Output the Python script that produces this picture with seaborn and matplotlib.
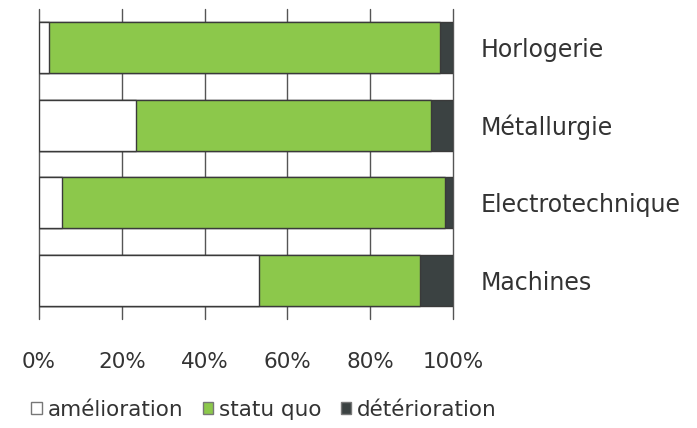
import numpy as np
import pandas as pd
import seaborn as sns
import matplotlib.pyplot as plt
from matplotlib.patches import Patch

# share of firms (%) per sector
sectors = ["Horlogerie", "Métallurgie", "Electrotechnique", "Machines"]
amelioration = [2.5, 23.4, 5.5, 53.1]
statu_quo = [94.3, 71.2, 92.6, 38.9]
deterioration = [3.2, 5.4, 1.9, 8.0]

white = "#ffffff"
green = "#8cc84b"
dark = "#3b4242"
edge = "#3a3a3a"

df = pd.DataFrame({
    "sector": sectors,
    "am": amelioration,
    "sq": statu_quo,
    "de": deterioration,
})
# cumulative widths, drawn back to front to get a stacked look
df["c3"] = df["am"] + df["sq"] + df["de"]
df["c2"] = df["am"] + df["sq"]
df["c1"] = df["am"]

sns.set_style("white")
plt.rcParams["font.family"] = ["DejaVu Sans"]

fig = plt.figure(figsize=(6.97, 4.28), dpi=100)
ax = fig.add_axes([39 / 697, 1 - 319 / 428, 414 / 697, 310 / 428])

for col, c in [("c3", dark), ("c2", green), ("c1", white)]:
    sns.barplot(data=df, x=col, y="sector", orient="h", color=c, width=0.66,
                edgecolor=edge, linewidth=1.0, saturation=1, ax=ax, zorder=2)

ax.set_xlim(0, 100)
ax.set_ylim(3.5, -0.5)
ax.set_xticks(np.arange(0, 101, 20))
ax.set_xticklabels([f"{v}%" for v in range(0, 101, 20)], fontsize=15.5, color="#333333")
ax.tick_params(axis="x", length=0, pad=24)
ax.grid(axis="x", color="#555555", linewidth=1.0, zorder=0)
for gl in ax.get_xgridlines():
    gl.set_clip_on(False)
ax.set_axisbelow(True)
for s in ax.spines.values():
    s.set_visible(False)

ax.yaxis.tick_right()
ax.tick_params(axis="y", length=0, pad=20, labelsize=17, labelcolor="#333333")
ax.set_xlabel("")
ax.set_ylabel("")

handles = [Patch(facecolor=white, edgecolor="#777777", label="amélioration"),
           Patch(facecolor=green, edgecolor="#777777", label="statu quo"),
           Patch(facecolor=dark, edgecolor="#777777", label="détérioration")]
fig.legend(handles=handles, loc="center", bbox_to_anchor=(264 / 697, 1 - 410 / 428),
           ncol=3, frameon=False, fontsize=15.5, handlelength=0.5, handleheight=0.5,
           handletextpad=0.25, columnspacing=0.9, labelcolor="#333333")

fig.savefig("out.png", dpi=100)
